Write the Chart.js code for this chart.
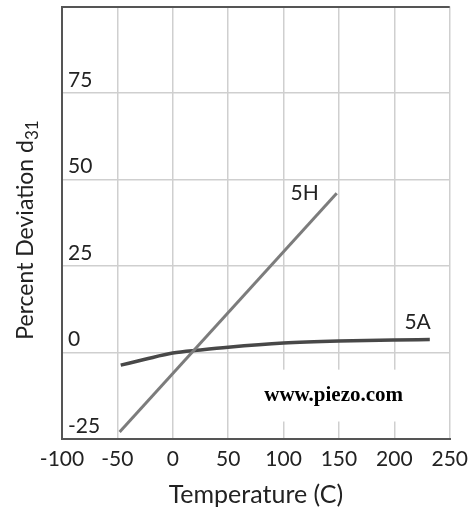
<!DOCTYPE html>
<html>
<head>
<meta charset="utf-8">
<script src="https://cdn.jsdelivr.net/npm/chart.js@4/dist/chart.umd.min.js"></script>
<style>
  html, body { margin: 0; padding: 0; background: #fff; }
  #wrap { width: 476px; height: 510px; }
</style>
</head>
<body>
<div id="wrap"><canvas id="chart" width="476" height="510"></canvas></div>
<script>
// temperature (C) vs percent deviation of d31
const xTicks = [-100, -50, 0, 50, 100, 150, 200, 250];
const yTicks = [-25, 0, 25, 50, 75, 100];

const temp5H = [-48, 148];
const dev5H = [-23, 46];

const temp5A = [-47, -25, 0, 25, 50, 100, 150, 200, 232];
const dev5A = [-3.7, -2.0, -0.2, 0.7, 1.5, 2.7, 3.3, 3.6, 3.7];

// text placed on the plot, in data units
const seriesLabels = [
  { text: "5H", x: 119, y: 46 },
  { text: "5A", x: 221, y: 8.6 }
];
const watermark = { text: "www.piezo.com", x0: 60, x1: 234, y0: -5, y1: -20 };

const FONT = "Lato, 'DejaVu Sans', sans-serif";
const TOP = yTicks[yTicks.length - 1];

function toPoints(xs, ys) {
  return xs.map((x, i) => ({ x: x, y: ys[i] }));
}

const overlay = {
  id: "overlay",
  beforeDatasetsDraw(chart) {
    const { ctx, scales: { x, y } } = chart;
    // white box behind the web address hides the grid
    const left = x.getPixelForValue(watermark.x0);
    const right = x.getPixelForValue(watermark.x1);
    const top = y.getPixelForValue(watermark.y0);
    const bottom = y.getPixelForValue(watermark.y1);
    ctx.save();
    ctx.fillStyle = "#fff";
    ctx.fillRect(left, top, right - left, bottom - top);
    ctx.restore();
  },
  afterDraw(chart) {
    const { ctx, scales: { x, y } } = chart;
    ctx.save();
    ctx.fillStyle = "#222";
    ctx.textAlign = "center";
    ctx.textBaseline = "middle";
    ctx.font = "21px " + FONT;
    seriesLabels.forEach(l => {
      ctx.fillText(l.text, x.getPixelForValue(l.x), y.getPixelForValue(l.y));
    });

    ctx.font = "bold 21px 'Liberation Serif', 'DejaVu Serif', serif";
    ctx.fillStyle = "#000";
    ctx.fillText(watermark.text,
      x.getPixelForValue((watermark.x0 + watermark.x1) / 2) - 2,
      y.getPixelForValue((watermark.y0 + watermark.y1) / 2));

    // y title with subscript, baseline on the right once rotated
    const main = "Percent Deviation d";
    const sub = "31";
    ctx.font = "23px " + FONT;
    const wMain = ctx.measureText(main).width;
    ctx.font = "17px " + FONT;
    const wSub = ctx.measureText(sub).width;
    const total = wMain + wSub;
    ctx.translate(33, 230);
    ctx.rotate(-Math.PI / 2);
    ctx.textAlign = "left";
    ctx.textBaseline = "alphabetic";
    ctx.fillStyle = "#222";
    ctx.font = "23px " + FONT;
    ctx.fillText(main, -total / 2, 0);
    ctx.font = "17px " + FONT;
    ctx.fillText(sub, -total / 2 + wMain, 5);
    ctx.restore();
  }
};

new Chart(document.getElementById("chart"), {
  type: "scatter",
  data: {
    datasets: [
      {
        label: "5H",
        data: toPoints(temp5H, dev5H),
        showLine: true,
        borderColor: "#7c7c7c",
        borderWidth: 3,
        pointRadius: 0
      },
      {
        label: "5A",
        data: toPoints(temp5A, dev5A),
        showLine: true,
        borderColor: "#484848",
        borderWidth: 3.5,
        pointRadius: 0,
        cubicInterpolationMode: "monotone"
      }
    ]
  },
  options: {
    responsive: false,
    animation: false,
    layout: { padding: { left: 50, top: 2, right: 6, bottom: 0 } },
    plugins: {
      legend: { display: false },
      tooltip: { enabled: false }
    },
    scales: {
      x: {
        type: "linear",
        min: xTicks[0],
        max: xTicks[xTicks.length - 1],
        afterBuildTicks: axis => { axis.ticks = xTicks.map(v => ({ value: v })); },
        grid: {
          color: ctx => ctx.tick && ctx.tick.value === -100 ? "#555" : "#cfcfcf",
          lineWidth: ctx => ctx.tick && ctx.tick.value === -100 ? 2 : 1.5,
          drawTicks: false
        },
        border: { color: "#555", width: 2 },
        ticks: {
          color: "#222",
          font: { family: FONT, size: 21 },
          padding: 8,
          maxRotation: 0
        },
        title: {
          display: true,
          text: "Temperature (C)",
          color: "#222",
          font: { family: FONT, size: 25 },
          padding: { top: 0, bottom: 0 }
        }
      },
      y: {
        type: "linear",
        min: yTicks[0],
        max: TOP,
        afterBuildTicks: axis => { axis.ticks = yTicks.map(v => ({ value: v })); },
        grid: {
          color: ctx => ctx.tick && (ctx.tick.value === TOP || ctx.tick.value === -25) ? "#555" : "#cfcfcf",
          lineWidth: ctx => ctx.tick && (ctx.tick.value === TOP || ctx.tick.value === -25) ? 2 : 1.5,
          drawTicks: false
        },
        border: { color: "#555", width: 2 },
        ticks: {
          mirror: true,
          padding: 6,
          labelOffset: -13,
          color: "#222",
          // the top tick carries no label, so keep it from reserving space
          font: ctx => ({ family: FONT, size: ctx.tick && ctx.tick.value === TOP ? 1 : 21 }),
          callback: v => v === TOP ? "" : v
        }
      }
    }
  },
  plugins: [overlay]
});
</script>
</body>
</html>
